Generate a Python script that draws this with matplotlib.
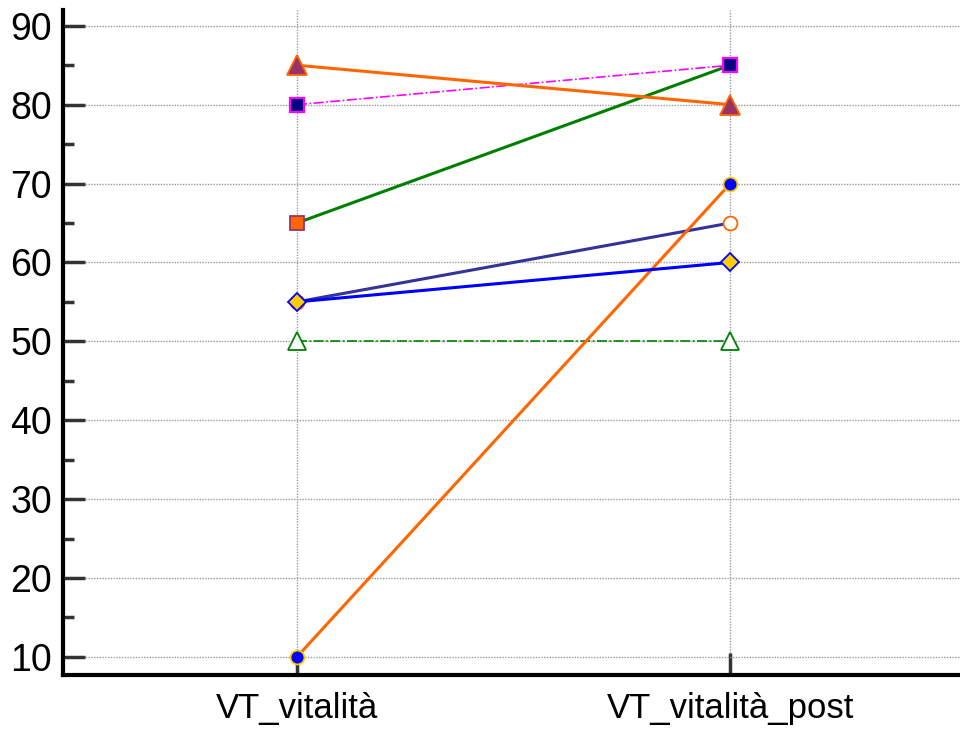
import matplotlib
matplotlib.use("Agg")
import matplotlib.pyplot as plt
from matplotlib.ticker import MultipleLocator

plt.rcParams['font.family'] = ['Liberation Sans', 'DejaVu Sans']

categories = ["VT_vitalità", "VT_vitalità_post"]

s_green_dash = [50, 50]
s_blue_diam = [55, 60]
s_navy_circ = [55, 65]
s_orange_low = [10, 70]
s_green_sq = [65, 85]
s_magenta_sq = [80, 85]
s_orange_tri = [85, 80]

yticks = [10, 20, 30, 40, 50, 60, 70, 80, 90]

fig = plt.figure(figsize=(9.6, 7.33), dpi=100)
ax = fig.add_axes([63/960, 58/733, 1 - 63/960, (675-10)/733])

x = list(range(len(categories)))

ax.plot(x, s_green_dash, color='#008000', lw=1.2, ls=(0, (6, 1.5, 1, 1.5)),
        marker='^', ms=13, mfc='white', mec='#008000', mew=1.3, zorder=3)
ax.plot(x, s_navy_circ, color='#333399', lw=2.2, marker='o', ms=10,
        mfc='white', mec='#FF6600', mew=1.3, zorder=3)
ax.plot(x, s_blue_diam, color='#0000FF', lw=2.2, marker='D', ms=9,
        mfc='#FFCC00', mec='#0000FF', mew=1.3, zorder=4)
ax.plot(x, s_orange_low, color='#FF6600', lw=2.2, marker='o', ms=10,
        mfc='#0000FF', mec='#FFCC00', mew=1.3, zorder=3)
ax.plot(x, s_green_sq, color='#008000', lw=2.2, marker='s', ms=10,
        mfc='#FF6600', mec='#993366', mew=1.3, zorder=3)
ax.plot(x, s_magenta_sq, color='#FF00FF', lw=1.2, ls=(0, (6, 1.5, 1, 1.5)),
        marker='s', ms=10, mfc='#000080', mec='#FF00FF', mew=1.6, zorder=4)
ax.plot(x, s_orange_tri, color='#FF6600', lw=2.2, marker='^', ms=14,
        mfc='#993366', mec='#FF6600', mew=1.3, zorder=4)

ax.set_xlim(-0.54, 1.53)
ax.set_ylim(7.7, 92.0)
ax.set_xticks(x)
ax.set_xticklabels(categories)
ax.set_yticks(yticks)
ax.yaxis.set_minor_locator(MultipleLocator(5))

ax.spines['top'].set_visible(False)
ax.spines['right'].set_visible(False)
ax.spines['left'].set_linewidth(3)
ax.spines['bottom'].set_linewidth(3)

ax.tick_params(axis='y', which='major', direction='in', length=16, width=2.5,
               color='#333333', labelsize=27, pad=8)
ax.tick_params(axis='y', which='minor', direction='in', length=8, width=2.5,
               color='#333333')
ax.tick_params(axis='x', which='major', direction='in', length=16, width=2.5,
               color='#333333', labelsize=25, pad=12)

ax.grid(True, which='major', color='#999999', ls=(0, (1, 1)), lw=1)
ax.set_axisbelow(True)

fig.savefig("out.png", dpi=100)
